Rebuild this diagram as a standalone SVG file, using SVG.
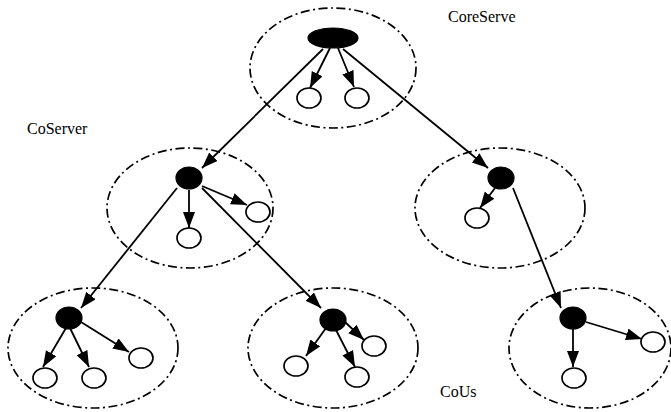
<svg xmlns="http://www.w3.org/2000/svg" width="671" height="412" viewBox="0 0 671 412">
  <defs>
    <marker id="arrow" markerUnits="userSpaceOnUse" markerWidth="17" markerHeight="13" refX="16" refY="6" orient="auto">
      <path d="M0,0 L16,6 L0,12 z" fill="#000"/>
    </marker>
  </defs>
  <style>
    .zone { fill: none; stroke: #000; stroke-width: 1.7; stroke-dasharray: 9 3.5 2 3.5; }
    .hub { fill: #000; stroke: #000; stroke-width: 1.2; }
    .leaf { fill: #fff; stroke: #000; stroke-width: 1.7; }
    .link { stroke: #000; stroke-width: 1.8; fill: none; marker-end: url(#arrow); }
    .label { font-family: "Liberation Serif", "Times New Roman", serif; font-size: 16px; fill: #000; }
  </style>
  <rect width="671" height="412" fill="#fff"/>

  <!-- dashed boundaries of each server domain -->
  <g id="zones">
    <ellipse class="zone" cx="333" cy="68" rx="83" ry="60"/>
    <ellipse class="zone" cx="190" cy="208" rx="83" ry="60"/>
    <ellipse class="zone" cx="500" cy="208" rx="85" ry="60"/>
    <ellipse class="zone" cx="93" cy="348" rx="85" ry="60"/>
    <ellipse class="zone" cx="333" cy="348" rx="85" ry="60"/>
    <ellipse class="zone" cx="590" cy="348" rx="81" ry="60"/>
  </g>

  <g id="connectors">
    <!-- root server -->
    <line class="link" x1="330" y1="48" x2="310" y2="88"/>
    <line class="link" x1="338" y1="48" x2="354" y2="87"/>
    <line class="link" x1="323" y1="49" x2="202" y2="168"/>
    <line class="link" x1="343" y1="49" x2="488" y2="168"/>
    <!-- left co-server -->
    <line class="link" x1="189" y1="190" x2="189" y2="228"/>
    <line class="link" x1="202" y1="186" x2="247" y2="205"/>
    <line class="link" x1="202" y1="188" x2="321" y2="308"/>
    <line class="link" x1="177" y1="188" x2="81" y2="308"/>
    <!-- right co-server -->
    <line class="link" x1="495" y1="188" x2="480" y2="208"/>
    <line class="link" x1="513" y1="188" x2="561" y2="308"/>
    <!-- bottom-left -->
    <line class="link" x1="66" y1="328" x2="43" y2="367"/>
    <line class="link" x1="70" y1="328" x2="89" y2="367"/>
    <line class="link" x1="81" y1="322" x2="129" y2="352"/>
    <!-- bottom-middle -->
    <line class="link" x1="326" y1="328" x2="306" y2="356"/>
    <line class="link" x1="336" y1="330" x2="355" y2="367"/>
    <line class="link" x1="345" y1="322" x2="364" y2="340"/>
    <!-- bottom-right -->
    <line class="link" x1="573" y1="329" x2="573" y2="367"/>
    <line class="link" x1="586" y1="322" x2="642" y2="339"/>
  </g>

  <g id="root">
    <ellipse class="hub" cx="333" cy="38" rx="25" ry="10"/>
    <ellipse class="leaf" cx="309" cy="98" rx="12" ry="10"/>
    <ellipse class="leaf" cx="357" cy="98" rx="12" ry="10"/>
  </g>
  <g id="coserver-left">
    <ellipse class="hub" cx="189" cy="178" rx="13" ry="11"/>
    <ellipse class="leaf" cx="189" cy="238" rx="12" ry="10"/>
    <ellipse class="leaf" cx="258" cy="212" rx="12" ry="10"/>
  </g>
  <g id="coserver-right">
    <ellipse class="hub" cx="501" cy="178" rx="13" ry="11"/>
    <ellipse class="leaf" cx="477" cy="218" rx="12" ry="10"/>
  </g>
  <g id="cous-left">
    <ellipse class="hub" cx="69" cy="318" rx="13" ry="11"/>
    <ellipse class="leaf" cx="45" cy="378" rx="12" ry="10"/>
    <ellipse class="leaf" cx="94" cy="378" rx="12" ry="10"/>
    <ellipse class="leaf" cx="141" cy="358" rx="12" ry="10"/>
  </g>
  <g id="cous-middle">
    <ellipse class="hub" cx="333" cy="320" rx="13" ry="11"/>
    <ellipse class="leaf" cx="296" cy="366" rx="12" ry="10"/>
    <ellipse class="leaf" cx="357" cy="377" rx="12" ry="10"/>
    <ellipse class="leaf" cx="374" cy="346" rx="12" ry="10"/>
  </g>
  <g id="cous-right">
    <ellipse class="hub" cx="573" cy="318" rx="13" ry="11"/>
    <ellipse class="leaf" cx="574" cy="378" rx="12" ry="10"/>
    <ellipse class="leaf" cx="653" cy="342" rx="12" ry="10"/>
  </g>

  <g id="labels">
    <text class="label" x="448" y="22">CoreServe</text>
    <text class="label" x="27" y="134">CoServer</text>
    <text class="label" x="440" y="397">CoUs</text>
  </g>
</svg>
